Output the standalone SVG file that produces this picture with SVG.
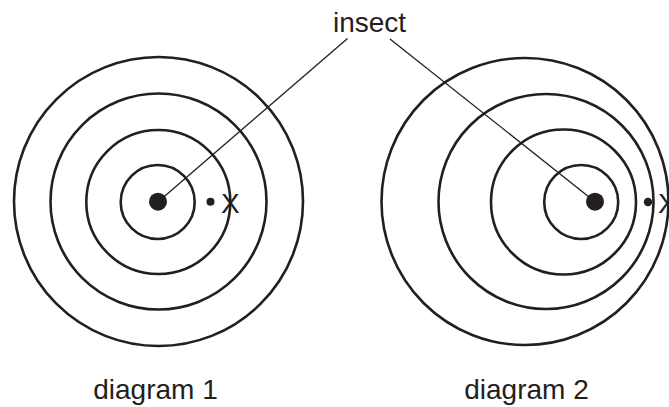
<svg xmlns="http://www.w3.org/2000/svg" width="669" height="407" viewBox="0 0 669 407">
<style>
.ring{fill:none;stroke:#231f20;stroke-width:2.6}
.dot{fill:#231f20}
.lead{stroke:#231f20;stroke-width:1.3;fill:none}
text{font-family:"Liberation Sans",Arial,sans-serif;fill:#231f20;font-size:28px}
</style>
<rect width="669" height="407" fill="#fff"/>
<g id="diagram1">
<circle class="ring" cx="158.5" cy="201.5" r="144.5"/>
<circle class="ring" cx="158.5" cy="201.5" r="108"/>
<circle class="ring" cx="158.3" cy="202" r="72"/>
<circle class="ring" cx="157.7" cy="202" r="37"/>
<circle class="dot" cx="158" cy="201.7" r="9"/>
<circle class="dot" cx="210.5" cy="201.7" r="4"/>
<text x="221" y="213.3">X</text>
<text x="155.5" y="399" text-anchor="middle">diagram 1</text>
</g>
<g id="diagram2">
<circle class="ring" cx="525" cy="201.5" r="143.5"/>
<circle class="ring" cx="546" cy="201.5" r="107.5"/>
<circle class="ring" cx="563.5" cy="202" r="72.5"/>
<circle class="ring" cx="581.2" cy="202" r="37"/>
<circle class="dot" cx="595" cy="201.7" r="9"/>
<circle class="dot" cx="648" cy="202" r="4.2"/>
<text x="658" y="213.3">X</text>
<text x="526.5" y="399" text-anchor="middle">diagram 2</text>
</g>
<g id="insect-label">
<text x="369.5" y="31.7" text-anchor="middle">insect</text>
</g>
<g id="connectors">
<line class="lead" x1="347.5" y1="38.5" x2="158.5" y2="201.5"/>
<line class="lead" x1="390" y1="39" x2="595" y2="201.7"/>
</g>
</svg>
